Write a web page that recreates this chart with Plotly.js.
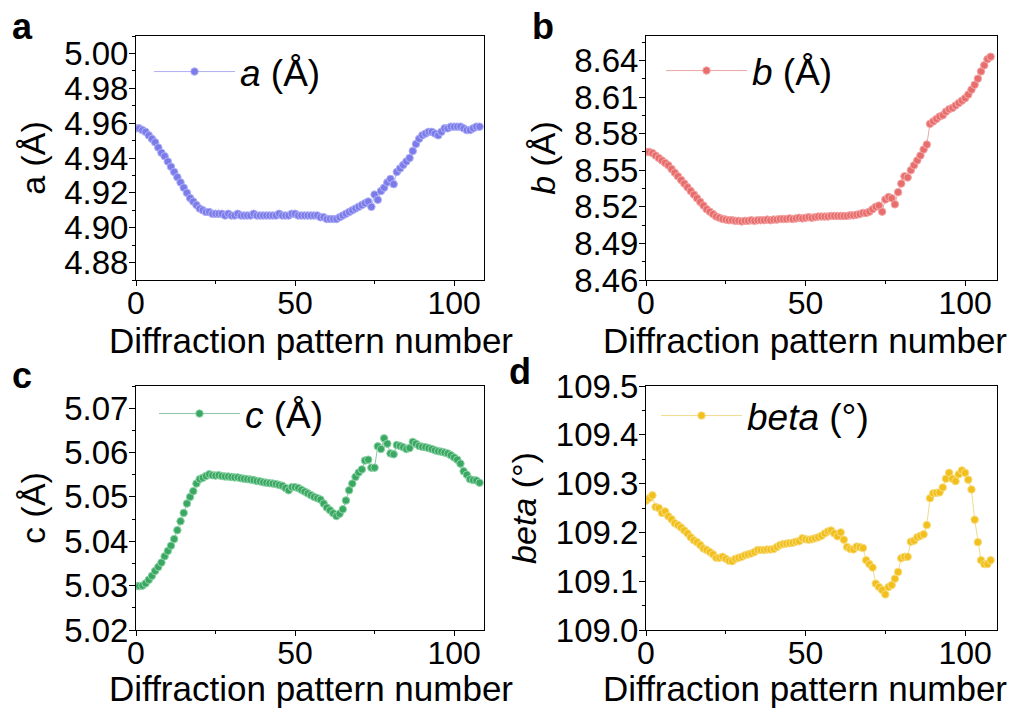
<!DOCTYPE html>
<html>
<head>
<meta charset="utf-8">
<script src="https://cdn.plot.ly/plotly-3.0.1.min.js"></script>
<style>html,body{margin:0;padding:0;background:#fff;}#chart{width:1015px;height:708px;}</style>
</head>
<body>
<div id="chart"></div>
<script>
// Diffraction pattern number
const patternNumber = [0,1,2,3,4,5,6,7,8,9,10,11,12,13,14,15,16,17,18,19,20,21,22,23,24,25,26,27,28,29,30,31,32,33,34,35,36,37,38,39,40,41,42,43,44,45,46,47,48,49,50,51,52,53,54,55,56,57,58,59,60,61,62,63,64,65,66,67,68,69,70,71,72,73,74,75,76,77,78,79,80,81,82,83,84,85,86,87,88,89,90,91,92,93,94,95,96,97,98,99,100,101,102,103,104,105,106,107,108];

// a (Å)
const aValues = [
4.957,4.957,4.956,4.955,4.953,4.951,4.949,4.946,4.943,4.941,
4.938,4.935,4.932,4.929,4.926,4.923,4.920,4.917,4.915,4.913,
4.911,4.910,4.909,4.909,4.908,4.908,4.908,4.908,4.907,4.908,
4.907,4.907,4.908,4.907,4.907,4.907,4.907,4.908,4.907,4.907,
4.907,4.907,4.907,4.907,4.907,4.908,4.907,4.907,4.907,4.908,
4.908,4.907,4.907,4.907,4.907,4.907,4.907,4.907,4.906,4.906,
4.905,4.905,4.905,4.905,4.906,4.907,4.908,4.909,4.910,4.911,
4.912,4.913,4.914,4.915,4.912,4.919,4.916,4.921,4.923,4.926,
4.928,4.925,4.932,4.934,4.936,4.938,4.940,4.944,4.948,4.951,
4.953,4.954,4.955,4.955,4.954,4.953,4.955,4.957,4.957,4.958,
4.958,4.958,4.958,4.957,4.956,4.956,4.957,4.958,4.958];

// b (Å)
const bValues = [
8.565,8.565,8.564,8.562,8.560,8.558,8.556,8.554,8.551,8.548,
8.545,8.542,8.539,8.536,8.533,8.530,8.527,8.524,8.521,8.518,
8.516,8.514,8.512,8.511,8.510,8.5095,8.509,8.509,8.5085,8.5085,
8.508,8.5085,8.5085,8.509,8.5085,8.509,8.509,8.509,8.5095,8.509,
8.5095,8.5095,8.510,8.510,8.510,8.5105,8.510,8.5105,8.511,8.5105,
8.511,8.5115,8.511,8.5115,8.512,8.512,8.512,8.512,8.5125,8.5125,
8.5125,8.5125,8.5125,8.5125,8.513,8.513,8.5135,8.514,8.515,8.515,
8.516,8.518,8.520,8.521,8.516,8.526,8.528,8.527,8.522,8.532,
8.539,8.545,8.544,8.550,8.554,8.558,8.562,8.567,8.571,8.588,
8.590,8.592,8.594,8.595,8.598,8.600,8.601,8.603,8.605,8.607,
8.609,8.612,8.616,8.620,8.625,8.631,8.636,8.641,8.643];

// c (Å)
const cValues = [
5.0299,5.0299,5.0300,5.0305,5.0313,5.0322,5.0333,5.0342,5.0352,5.0366,
5.0378,5.0390,5.0405,5.0425,5.0445,5.0464,5.0485,5.0500,5.0513,5.0530,
5.0540,5.0543,5.0547,5.0551,5.0549,5.0548,5.0549,5.0547,5.0546,5.0546,
5.0545,5.0544,5.0544,5.0542,5.0541,5.0540,5.0539,5.0538,5.0536,5.0535,
5.0533,5.0532,5.0531,5.0530,5.0529,5.0527,5.0525,5.0520,5.0515,5.0522,
5.0522,5.0520,5.0516,5.0512,5.0508,5.0504,5.0500,5.0497,5.0494,5.0485,
5.0476,5.0470,5.0463,5.0457,5.0462,5.0472,5.0492,5.0515,5.0530,5.0545,
5.0555,5.0562,5.0582,5.0584,5.0566,5.0566,5.0614,5.0608,5.0632,5.0620,
5.0598,5.0596,5.0617,5.0615,5.0612,5.0608,5.0610,5.0624,5.0620,5.0615,
5.0613,5.0612,5.0610,5.0608,5.0605,5.0603,5.0602,5.0600,5.0598,5.0594,
5.0589,5.0584,5.0575,5.0558,5.0550,5.0540,5.0538,5.0537,5.0532];

// beta (°)
const betaValues = [
109.265,109.270,109.276,109.252,109.250,109.240,109.243,109.233,109.227,109.219,
109.215,109.210,109.204,109.198,109.190,109.184,109.180,109.174,109.167,109.164,
109.160,109.155,109.148,109.148,109.150,109.146,109.142,109.141,109.146,109.148,
109.150,109.153,109.155,109.157,109.160,109.164,109.164,109.164,109.165,109.165,
109.166,109.170,109.174,109.176,109.177,109.178,109.179,109.181,109.182,109.188,
109.186,109.185,109.186,109.188,109.190,109.193,109.198,109.202,109.204,109.198,
109.192,109.200,109.185,109.170,109.166,109.165,109.171,109.170,109.168,109.143,
109.135,109.128,109.095,109.088,109.082,109.073,109.088,109.092,109.105,109.119,
109.147,109.150,109.150,109.181,109.183,109.190,109.193,109.196,109.215,109.270,
109.280,109.281,109.282,109.292,109.310,109.322,109.310,109.305,109.319,109.327,
109.322,109.308,109.288,109.226,109.180,109.143,109.135,109.135,109.143];

const aTicks = [4.88,4.90,4.92,4.94,4.96,4.98,5.00];
const bTicks = [8.46,8.49,8.52,8.55,8.58,8.61,8.64];
const cTicks = [5.02,5.03,5.04,5.05,5.06,5.07];
const betaTicks = [109.0,109.1,109.2,109.3,109.4,109.5];
const xTicks = [0,50,100];
const xTitle = 'Diffraction pattern number';

const FONT = 'Liberation Sans, Arial, sans-serif';

function series(x, y, name, xa, ya, leg, fill, edge, line) {
  return {
    type: 'scatter', mode: 'lines+markers', x: x, y: y, name: name,
    xaxis: xa, yaxis: ya, legend: leg,
    line: {color: line, width: 0.8},
    marker: {symbol: 'circle', size: 7.5, color: fill, line: {color: edge, width: 1}}
  };
}

const traces = [
  series(patternNumber, aValues, '<i>a</i> (Å)', 'x', 'y', 'legend', '#7b7bea', '#b0b0f6', '#9a9af0'),
  series(patternNumber, bValues, '<i>b</i> (Å)', 'x2', 'y2', 'legend2', '#e86e6e', '#f4a8a8', '#e89090'),
  series(patternNumber, cValues, '<i>c</i> (Å)', 'x3', 'y3', 'legend3', '#3aa863', '#90d4a8', '#70b890'),
  series(patternNumber, betaValues, '<i>beta</i> (°)', 'x4', 'y4', 'legend4', '#f2c01c', '#f8dc80', '#ecd070')
];

const W = 1015, H = 708;
const px = v => v / W;
const py = v => 1 - v / H;

function xAxis(dom, range, anchor) {
  return {
    domain: dom, range: range, anchor: anchor,
    tickvals: xTicks, ticktext: xTicks.map(String),
    ticks: 'outside', ticklen: 5, tickwidth: 1, tickcolor: '#000',
    ticklabelstandoff: -10,
    minor: {ticks: 'outside', ticklen: 3, dtick: 25, tick0: 0, tickcolor: '#000'},
    showline: true, linecolor: '#000', linewidth: 1, mirror: true,
    showgrid: false, zeroline: false,
    tickfont: {family: FONT, size: 32, color: '#000'},
    title: {text: ''}
  };
}
function yAxis(dom, range, anchor, ticks, fmt, minorStep, title) {
  return {
    domain: dom, range: range, anchor: anchor,
    tickvals: ticks, ticktext: ticks.map(v => v.toFixed(fmt)),
    ticks: 'outside', ticklen: 6, tickwidth: 1, tickcolor: '#000',
    ticklabelstandoff: -6,
    minor: {ticks: 'outside', ticklen: 3, dtick: minorStep, tick0: ticks[0], tickcolor: '#000'},
    showline: true, linecolor: '#000', linewidth: 1, mirror: true,
    showgrid: false, zeroline: false,
    tickfont: {family: FONT, size: 33, color: '#000'},
    title: {text: title, font: {family: FONT, size: 34, color: '#000'}, standoff: 8}
  };
}

const colL = [px(136), px(484)], colR = [px(646), px(997)];
const rowT = [py(280), py(36)], rowB = [py(630), py(386)];

function legend(x, y) {
  return {
    x: x, y: y, xanchor: 'left', yanchor: 'middle',
    bgcolor: 'rgba(0,0,0,0)', borderwidth: 0,
    font: {family: FONT, size: 37, color: '#000'},
    itemwidth: 81
  };
}

function label(text, x, y, size, bold) {
  return {text: bold ? '<b>' + text + '</b>' : text, x: px(x), y: py(y), xref: 'paper', yref: 'paper',
    xanchor: bold ? 'left' : 'center', yanchor: 'middle', showarrow: false,
    font: {family: FONT, size: size, color: '#000'}};
}

const layout = {
  width: W, height: H,
  margin: {l: 0, r: 0, t: 0, b: 0},
  paper_bgcolor: '#fff', plot_bgcolor: '#fff',
  font: {family: FONT, color: '#000'},
  showlegend: true,
  xaxis: xAxis(colL, [0, 109.4], 'y'),
  yaxis: yAxis(rowT, [4.87, 5.01], 'x', aTicks, 2, 0.01, 'a (Å)'),
  xaxis2: xAxis(colR, [0, 110], 'y2'),
  yaxis2: yAxis(rowT, [8.46, 8.66], 'x2', bTicks, 2, 0.015, '<i>b</i> (Å)'),
  xaxis3: xAxis(colL, [0, 109.4], 'y3'),
  yaxis3: yAxis(rowB, [5.02, 5.075], 'x3', cTicks, 2, 0.005, 'c (Å)'),
  xaxis4: xAxis(colR, [0, 110], 'y4'),
  yaxis4: yAxis(rowB, [109.0, 109.5], 'x4', betaTicks, 1, 0.05, '<i>beta</i> (°)'),
  legend: legend(px(149), py(72)),
  legend2: legend(px(661), py(71)),
  legend3: legend(px(154), py(414)),
  legend4: legend(px(656), py(416)),
  annotations: [
    label('a', 10, 26, 36, true),
    label('b', 530, 26, 36, true),
    label('c', 10, 375, 36, true),
    label('d', 507, 371, 36, true),
    label(xTitle, 311, 340, 35, false),
    label(xTitle, 805, 340, 35, false),
    label(xTitle, 311, 688, 35, false),
    label(xTitle, 805, 688, 35, false)
  ]
};

Plotly.newPlot('chart', traces, layout, {staticPlot: true, displayModeBar: false});
</script>
</body>
</html>
